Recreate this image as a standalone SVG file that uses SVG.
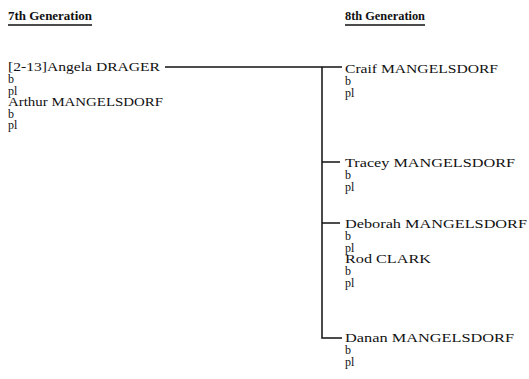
<svg xmlns="http://www.w3.org/2000/svg" width="529" height="379" viewBox="0 0 529 379">
<style>
text{font-family:"Liberation Serif","Times New Roman",serif;font-size:12px;fill:#111}
.h{font-weight:bold;font-size:12.5px}
.c{stroke:#111;stroke-width:1.5;fill:none}
.u{stroke:#111;stroke-width:1.5}
</style>
<rect width="529" height="379" fill="#fff"/>
<g id="header7"><text class="h" x="8" y="20" textLength="84" lengthAdjust="spacingAndGlyphs">7th Generation</text><line class="u" x1="8" y1="25" x2="92" y2="25"/></g>
<g id="header8"><text class="h" x="345" y="20" textLength="80" lengthAdjust="spacingAndGlyphs">8th Generation</text><line class="u" x1="345" y1="25" x2="425" y2="25"/></g>
<g id="parents">
<text x="8" y="71" textLength="152" lengthAdjust="spacingAndGlyphs">[2-13]Angela DRAGER</text>
<text x="8" y="83">b</text>
<text x="8" y="95">pl</text>
<text x="8" y="106" textLength="155" lengthAdjust="spacingAndGlyphs">Arthur MANGELSDORF</text>
<text x="8" y="118">b</text>
<text x="8" y="129">pl</text>
</g>
<g id="child1">
<text x="345" y="73" textLength="153" lengthAdjust="spacingAndGlyphs">Craif MANGELSDORF</text>
<text x="345" y="85">b</text>
<text x="345" y="97">pl</text>
</g>
<g id="child2">
<text x="345" y="167" textLength="170" lengthAdjust="spacingAndGlyphs">Tracey MANGELSDORF</text>
<text x="345" y="179">b</text>
<text x="345" y="191">pl</text>
</g>
<g id="child3">
<text x="345" y="228" textLength="182" lengthAdjust="spacingAndGlyphs">Deborah MANGELSDORF</text>
<text x="345" y="240">b</text>
<text x="345" y="252">pl</text>
<text x="345" y="263" textLength="86" lengthAdjust="spacingAndGlyphs">Rod CLARK</text>
<text x="345" y="275">b</text>
<text x="345" y="287">pl</text>
</g>
<g id="child4">
<text x="345" y="342" textLength="169" lengthAdjust="spacingAndGlyphs">Danan MANGELSDORF</text>
<text x="345" y="354">b</text>
<text x="345" y="366">pl</text>
</g>
<g id="connectors">
<path class="c" d="M165 67 H342"/>
<path class="c" d="M322 67 V338 H342"/>
<path class="c" d="M322 162 H340"/>
<path class="c" d="M322 223 H340"/>
</g>
</svg>
